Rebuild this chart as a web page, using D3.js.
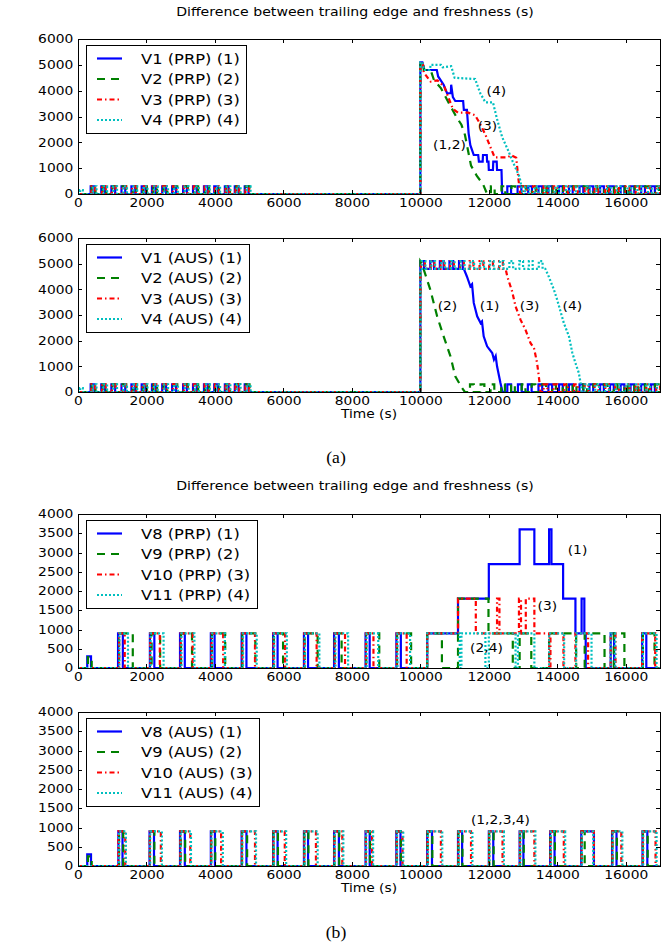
<!DOCTYPE html>
<html>
<head>
<meta charset="utf-8">
<script src="https://cdn.jsdelivr.net/npm/d3@7"></script>
<style>
  body { margin: 0; background: #fff; }
  svg { display: block; }
  text { font-family: "DejaVu Sans", sans-serif; fill: #000; }
</style>
</head>
<body>
<div id="chart"></div>
<script>
// ---- data ----
var titleText = "Difference between trailing edge and freshness (s)";
var xTicks = [0, 2000, 4000, 6000, 8000, 10000, 12000, 14000, 16000];
var yTicksA = [0, 1000, 2000, 3000, 4000, 5000, 6000];
var yTicksB = [0, 500, 1000, 1500, 2000, 2500, 3000, 3500, 4000];

var legendA1 = ["V1 (PRP) (1)", "V2 (PRP) (2)", "V3 (PRP) (3)", "V4 (PRP) (4)"];
var legendA2 = ["V1 (AUS) (1)", "V2 (AUS) (2)", "V3 (AUS) (3)", "V4 (AUS) (4)"];
var legendB1 = ["V8 (PRP) (1)", "V9 (PRP) (2)", "V10 (PRP) (3)", "V11 (PRP) (4)"];
var legendB2 = ["V8 (AUS) (1)", "V9 (AUS) (2)", "V10 (AUS) (3)", "V11 (AUS) (4)"];

// (a): short refresh pulses (start times, s), shared by PRP and AUS runs
var v1Early = [370, 680, 975, 1270, 1560, 1860, 2160, 2460, 2750, 3070, 3360, 3680, 3980, 4290, 4580, 4870];
var v2Early = [400, 720, 1010, 1300, 1600, 1900, 2200, 2500, 2790, 3100, 3400, 3720, 4010, 4330, 4620, 4900];
var v3Early = [390, 700, 990, 1290, 1580, 1880, 2180, 2480, 2770, 3090, 3380, 3700, 4000, 4310, 4600, 4890];
var v4Early = [430, 740, 1030, 1320, 1620, 1920, 2220, 2520, 2810, 3120, 3420, 3740, 4040, 4340, 4640, 4930];

var v1LatePrp = [12540, 12840, 13150, 13450, 13740, 14050, 14340, 14650, 14940, 15250, 15540, 15850, 16140, 16450, 16740];
var v2LatePrp = [12060, 12370, 12660, 12970, 13260, 13570, 13860, 14170, 14460, 14770, 15060, 15370, 15660, 15970, 16260, 16570, 16860];
var v3LatePrp = [13000, 13290, 13600, 13890, 14200, 14490, 14800, 15090, 15400, 15690, 16000, 16290, 16600, 16890];
var v4LatePrp = [13060, 13340, 13650, 13940, 14250, 14540, 14850, 15140, 15450, 15740, 16050, 16340, 16650, 16930];

var v1LateAus = [12540, 12850, 13140, 13450, 13740, 14050, 14340, 14650, 14940, 15250, 15540, 15850, 16140, 16450, 16740];
var v2LateAus = [11450, 11760, 12050, 12360, 12650, 12960, 13250, 13560, 13850, 14160, 14450, 14760, 15050, 15360, 15650, 15960, 16250, 16560, 16850];
var v3LateAus = [13600, 13890, 14200, 14490, 14800, 15090, 15400, 15690, 16000, 16290, 16600, 16890];
var v4LateAus = [14800, 15110, 15400, 15710, 16000, 16310, 16600, 16910];

// AUS plateau spikes (on top of the 4800 level)
var v1TopAus = [10000, 10290, 10570, 10850, 11130];
var v3TopAus = [10020, 10300, 10590, 10870, 11160, 11440, 11730, 12010, 12300];
var v4TopAus = [10040, 10320, 10610, 10890, 11180, 11460, 11750, 12030, 12320, 12600, 12890, 13170, 13460];
var pulseA = 110;   // pulse length (s)
var pulseHeightA = 300;

// (a): the large outage after t = 10000, as [time, value] polylines
var v1BasePrp = [[0,0],[10000,0],[10000,5100],[10060,5100],[10120,4800],[10480,4800],[10520,4550],[10680,4230],[10780,3900],[10890,3900],[10900,4230],[10950,3750],[11020,3600],[11250,3600],[11270,3260],[11360,3260],[11410,2350],[11460,1890],[11560,1510],[11690,1510],[11710,1250],[11820,1250],[11830,1510],[11940,1510],[11950,1250],[11990,1250],[12000,930],[12120,930],[12130,1250],[12230,1250],[12240,930],[12370,930],[12390,0],[17000,0]];
var v2BasePrp = [[0,0],[10000,0],[10000,5100],[10080,5100],[10100,4800],[10300,4800],[10400,4400],[10600,4100],[10780,3650],[11050,2990],[11200,2680],[11300,2300],[11480,1100],[11650,700],[11830,380],[11950,0],[17000,0]];
var v3BasePrp = [[0,0],[10000,0],[10000,5100],[10070,5100],[10100,4700],[10300,4350],[10500,4400],[10700,4150],[10800,3800],[10950,3300],[11100,3150],[11400,3150],[11600,3050],[11750,2700],[11900,2300],[12050,1800],[12170,1420],[12550,1420],[12650,1500],[12800,1400],[12880,400],[12920,0],[17000,0]];
var v4BasePrp = [[0,0],[60,0],[60,150],[140,150],[140,0],[10000,0],[10000,5100],[10060,5100],[10100,4800],[10280,4800],[10300,5000],[10600,5000],[10650,4900],[10900,4950],[11000,4500],[11600,4450],[11750,3900],[11900,3550],[12120,3550],[12240,2900],[12390,2200],[12560,1700],[12700,1250],[12900,650],[12990,0],[17000,0]];

var v1BaseAus = [[0,0],[10000,0],[10000,4800],[11270,4800],[11360,4500],[11460,4120],[11510,4200],[11560,3470],[11660,2950],[11760,2690],[11800,2750],[11850,2170],[11950,1780],[12100,1520],[12150,1260],[12200,1400],[12240,1000],[12340,350],[12400,0],[17000,0]];
var v2BaseAus = [[0,0],[10000,0],[10000,5100],[10050,5000],[10100,4770],[10290,3990],[10490,2950],[10680,2170],[10880,1390],[11020,610],[11220,150],[11300,0],[17000,0]];
var v3BaseAus = [[0,0],[10000,0],[10000,4800],[12490,4800],[12540,4500],[12680,3920],[12780,3340],[12925,2820],[13070,2430],[13220,1900],[13320,1710],[13410,1130],[13460,610],[13510,0],[17000,0]];
var v4BaseAus = [[0,0],[60,0],[60,150],[140,150],[140,0],[10000,0],[10000,4800],[13650,4800],[13750,4500],[13900,3990],[13995,3600],[14190,2690],[14340,2170],[14440,1520],[14530,1130],[14630,740],[14680,350],[14710,0],[17000,0]];

// (b): step levels [time, value from that time on] and 900 s pulses [start, end]
var pulseHeightB = 900;
var v8StepsPrp = [[0,0],[270,300],[380,0],[10200,900],[11100,1800],[12000,2700],[12900,3600],[13330,2700],[13760,3600],[13830,2700],[14170,1800],[14530,900],[14710,1800],[14790,900],[14830,0],[17000,0]];
var v8PulsesPrp = [[1170,1310],[2100,2230],[2980,3120],[3880,3990],[4780,4920],[5700,5830],[6600,6720],[7480,7620],[8400,8520],[9300,9430],[15560,15660],[16480,16600]];
var v9StepsPrp = [[0,0],[290,280],[400,0],[10200,900],[10630,0],[11100,1800],[11990,900],[12700,0],[12900,900],[13240,0],[13760,900],[14550,0],[14800,900],[15380,0],[15650,900],[15960,0],[16500,900],[16840,0],[17000,0]];
var v9PulsesPrp = [[1200,1600],[2150,2400],[3010,3330],[3910,4300],[4800,5180],[5720,5990],[6620,7000],[7500,7700],[8420,8800],[9320,9730]];
var v10StepsPrp = [[0,0],[10200,900],[11100,1800],[11620,900],[12240,1800],[12310,900],[12880,1800],[12940,900],[13080,1800],[13330,900],[13760,0],[13800,900],[14180,0],[14530,900],[14900,0],[15560,900],[15700,0],[16480,900],[16860,0],[17000,0]];
var v10PulsesPrp = [[1200,1365],[2110,2390],[3000,3350],[3900,4240],[4800,5170],[5710,6050],[6610,6970],[7500,7800],[8410,8630],[9310,9600]];
var v11StepsPrp = [[0,0],[10200,900],[11150,0],[11200,900],[11900,0],[12000,900],[12780,0],[12850,900],[13330,0],[13760,900],[14200,0],[14550,900],[15000,0],[15560,900],[15690,0],[16500,900],[16900,0],[17000,0]];
var v11PulsesPrp = [[1210,1460],[2120,2500],[3020,3400],[3920,4290],[4820,5220],[5730,6100],[6630,7050],[7520,7890],[8430,8770],[9330,9700]];

var v8StepsAus = [[0,0],[270,300],[380,0],[17000,0]];
var v8PulsesAus = [[1180,1300],[2090,2220],[2980,3120],[3880,4000],[4780,4920],[5700,5830],[6600,6720],[7480,7620],[8400,8520],[9300,9420],[10200,10340],[11100,11220],[12000,12130],[12900,13010],[13790,13920],[14700,15070],[15600,15730],[16490,16630]];
var v9StepsAus = [[0,0],[290,250],[400,0],[17000,0]];
var v9PulsesAus = [[1200,1320],[2100,2230],[3000,3130],[3890,4010],[4790,4940],[5710,5840],[6610,6730],[7490,7630],[8410,8530],[9310,9430],[10210,10350],[11110,11230],[12010,12140],[12910,13020],[13800,13930],[14710,14800],[15610,15740],[16500,16640]];
var v10StepsAus = [[0,0],[17000,0]];
var v10PulsesAus = [[1180,1380],[2100,2420],[2990,3280],[3890,4180],[4790,5170],[5710,6040],[6610,6950],[7490,7720],[8410,8590],[9310,9480],[10210,10600],[11110,11480],[12010,12400],[12910,13330],[13800,14190],[14710,15070],[15610,15870],[16500,16870]];
var v11StepsAus = [[0,0],[17000,0]];
var v11PulsesAus = [[1200,1400],[2110,2450],[3000,3300],[3900,4230],[4800,5200],[5720,6080],[6620,7000],[7500,7750],[8420,8620],[9320,9500],[10220,10640],[11120,11520],[12020,12440],[12920,13360],[13810,14230],[14720,15050],[15620,15900],[16510,16900]];

// curve labels [time, value, text]
var notesA1 = [[12220, 3990, "(4)"], [11960, 2630, "(3)"], [10850, 1900, "(1,2)"]];
var notesA2 = [[10790, 3350, "(2)"], [12020, 3350, "(1)"], [13190, 3350, "(3)"], [14440, 3350, "(4)"]];
var notesB1 = [[14590, 3065, "(1)"], [13710, 1610, "(3)"], [11930, 520, "(2,4)"]];
var notesB2 = [[12340, 1195, "(1,2,3,4)"]];

// ---- helpers ----
var SX = 1.2; // the figure is slightly stretched horizontally

function toPairs(starts, len) {
  return starts.map(function (s) { return [s, s + len]; });
}

function stepsToLine(steps) {
  var out = [steps[0].slice()];
  for (var i = 1; i < steps.length; i++) {
    out.push([steps[i][0], steps[i - 1][1]]);
    out.push([steps[i][0], steps[i][1]]);
  }
  return out;
}

function baseAt(line, t) {
  for (var i = line.length - 1; i > 0; i--) {
    var a = line[i - 1], b = line[i];
    if (t >= a[0] && t <= b[0]) {
      if (b[0] === a[0]) return b[1];
      return a[1] + (b[1] - a[1]) * (t - a[0]) / (b[0] - a[0]);
    }
  }
  return line[line.length - 1][1];
}

// overlay pulses on a base polyline
function combine(line, pulses, h) {
  var ev = [];
  line.forEach(function (p, i) { ev.push({ t: p[0], i: i, v: p[1] }); });
  pulses.forEach(function (p) {
    ev.push({ t: p[0], i: -1, d: h });
    ev.push({ t: p[1], i: -1, d: -h });
  });
  ev.sort(function (a, b) {
    return (a.t - b.t) || ((a.i < 0) - (b.i < 0)) || (a.i - b.i);
  });
  var active = 0, out = [];
  ev.forEach(function (e) {
    if (e.i >= 0) {
      out.push([e.t, e.v + active]);
    } else {
      var b = baseAt(line, e.t);
      out.push([e.t, b + active]);
      active += e.d;
      out.push([e.t, b + active]);
    }
  });
  return out;
}

var styles = [
  { color: "#0000ff", dash: null },
  { color: "#008000", dash: "8,6" },
  { color: "#ff0000", dash: "5,3,1.5,3" },
  { color: "#00bfbf", dash: "2,2" }
];

var panels = [
  { top: 39, bottom: 194, yMax: 6000, yTicks: yTicksA, legend: legendA1, notes: notesA1, xLabel: false,
    series: [
      combine(v1BasePrp, toPairs(v1Early.concat(v1LatePrp), pulseA), pulseHeightA),
      combine(v2BasePrp, toPairs(v2Early.concat(v2LatePrp), pulseA), pulseHeightA),
      combine(v3BasePrp, toPairs(v3Early.concat(v3LatePrp), pulseA), pulseHeightA),
      combine(v4BasePrp, toPairs(v4Early.concat(v4LatePrp), pulseA), pulseHeightA)
    ] },
  { top: 238, bottom: 392, yMax: 6000, yTicks: yTicksA, legend: legendA2, notes: notesA2, xLabel: true,
    series: [
      combine(v1BaseAus, toPairs(v1Early.concat(v1TopAus, v1LateAus), pulseA), pulseHeightA),
      combine(v2BaseAus, toPairs(v2Early.concat(v2LateAus), pulseA), pulseHeightA),
      combine(v3BaseAus, toPairs(v3Early.concat(v3TopAus, v3LateAus), pulseA), pulseHeightA),
      combine(v4BaseAus, toPairs(v4Early.concat(v4TopAus, v4LateAus), pulseA), pulseHeightA)
    ] },
  { top: 514, bottom: 668, yMax: 4000, yTicks: yTicksB, legend: legendB1, notes: notesB1, xLabel: false,
    series: [
      combine(stepsToLine(v8StepsPrp), v8PulsesPrp, pulseHeightB),
      combine(stepsToLine(v9StepsPrp), v9PulsesPrp, pulseHeightB),
      combine(stepsToLine(v10StepsPrp), v10PulsesPrp, pulseHeightB),
      combine(stepsToLine(v11StepsPrp), v11PulsesPrp, pulseHeightB)
    ] },
  { top: 712, bottom: 866, yMax: 4000, yTicks: yTicksB, legend: legendB2, notes: notesB2, xLabel: true,
    series: [
      combine(stepsToLine(v8StepsAus), v8PulsesAus, pulseHeightB),
      combine(stepsToLine(v9StepsAus), v9PulsesAus, pulseHeightB),
      combine(stepsToLine(v10StepsAus), v10PulsesAus, pulseHeightB),
      combine(stepsToLine(v11StepsAus), v11PulsesAus, pulseHeightB)
    ] }
];

// ---- drawing ----
var W = 670, H = 945;
var LEFT = 78, RIGHT = 660;
var svg = d3.select("#chart").append("svg").attr("width", W).attr("height", H);

function addText(sel, px, py, str, size, anchor, sx) {
  return sel.append("text")
    .attr("transform", "translate(" + px + "," + py + ") scale(" + (sx || SX) + ",1)")
    .attr("text-anchor", anchor || "start")
    .attr("font-size", size)
    .text(str);
}

var x = d3.scaleLinear().domain([0, 17000]).range([LEFT, RIGHT]);

// titles and captions
addText(svg, 355, 16, titleText, 11.75, "middle");
addText(svg, 355, 490, titleText, 11.75, "middle");
addText(svg, 336, 463, "(a)", 16, "middle", 1.1).style("font-family", "'Liberation Serif', 'Times New Roman', serif");
addText(svg, 336, 938, "(b)", 16, "middle", 1.1).style("font-family", "'Liberation Serif', 'Times New Roman', serif");

panels.forEach(function (p, pi) {
  var y = d3.scaleLinear().domain([0, p.yMax]).range([p.bottom, p.top]);
  var g = svg.append("g");

  var clipId = "clip-" + pi;
  svg.append("clipPath").attr("id", clipId)
    .append("rect")
    .attr("x", LEFT).attr("y", p.top)
    .attr("width", RIGHT - LEFT).attr("height", p.bottom - p.top);

  var line = d3.line().x(function (d) { return x(d[0]); }).y(function (d) { return y(d[1]); });

  // series lines
  g.append("g").attr("clip-path", "url(#" + clipId + ")")
    .selectAll("path")
    .data(p.series)
    .join("path")
    .attr("d", line)
    .attr("fill", "none")
    .attr("stroke", function (d, i) { return styles[i].color; })
    .attr("stroke-width", 2.2)
    .attr("stroke-dasharray", function (d, i) { return styles[i].dash; });

  // frame
  g.append("rect")
    .attr("x", LEFT).attr("y", p.top)
    .attr("width", RIGHT - LEFT).attr("height", p.bottom - p.top)
    .attr("fill", "none").attr("stroke", "#000").attr("stroke-width", 1)
    .attr("shape-rendering", "crispEdges");

  // axes with inward ticks on all sides
  var axB = g.append("g").attr("transform", "translate(0," + p.bottom + ")")
    .call(d3.axisBottom(x).tickValues(xTicks).tickSize(-4).tickPadding(5).tickFormat(d3.format("d")));
  var axL = g.append("g").attr("transform", "translate(" + LEFT + ",0)")
    .call(d3.axisLeft(y).tickValues(p.yTicks).tickSize(-4).tickPadding(4).tickFormat(d3.format("d")));
  var axT = g.append("g").attr("transform", "translate(0," + p.top + ")")
    .call(d3.axisTop(x).tickValues(xTicks).tickSize(-4).tickFormat(""));
  var axR = g.append("g").attr("transform", "translate(" + RIGHT + ",0)")
    .call(d3.axisRight(y).tickValues(p.yTicks).tickSize(-4).tickFormat(""));
  [axB, axL, axT, axR].forEach(function (ax) {
    ax.select(".domain").remove();
    ax.selectAll("line").attr("stroke", "#000").attr("shape-rendering", "crispEdges");
    ax.selectAll("text")
      .attr("font-family", "'DejaVu Sans', sans-serif")
      .attr("font-size", 11.5)
      .attr("fill", "#000")
      .attr("transform", "scale(" + SX + ",1)");
  });

  if (p.xLabel) {
    addText(g, (LEFT + RIGHT) / 2, p.bottom + 26, "Time (s)", 11.5, "middle");
  }

  // curve labels
  p.notes.forEach(function (n) {
    addText(g, x(n[0]), y(n[1]) + 4, n[2], 11.5, "middle");
  });

  // legend
  var lx = LEFT + 8, ly = p.top + 6;
  var lg = g.append("g");
  var box = lg.append("rect")
    .attr("x", lx).attr("y", ly).attr("height", 88)
    .attr("fill", "#fff").attr("stroke", "#000").attr("stroke-width", 1)
    .attr("shape-rendering", "crispEdges");
  var maxW = 0;
  p.legend.forEach(function (name, i) {
    var ry = ly + 13.5 + i * 20.5;
    lg.append("line")
      .attr("x1", lx + 11).attr("x2", lx + 36)
      .attr("y1", ry).attr("y2", ry)
      .attr("stroke", styles[i].color)
      .attr("stroke-width", 2.2)
      .attr("stroke-dasharray", styles[i].dash);
    var t = addText(lg, lx + 55, ry + 5, name, 13.6, "start");
    maxW = Math.max(maxW, t.node().getComputedTextLength() * SX);
  });
  box.attr("width", 55 + maxW + 7);
});
</script>
</body>
</html>
